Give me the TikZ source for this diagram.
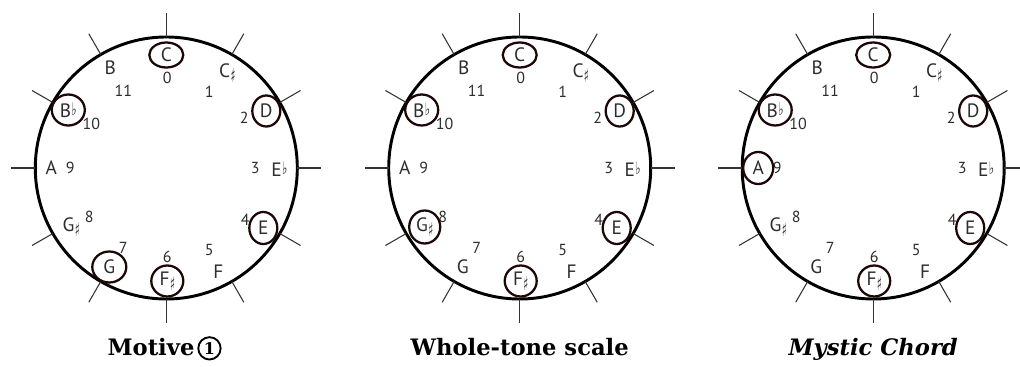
\documentclass[tikz,border=0pt]{standalone}
\usepackage{fontspec}
\setmainfont{DejaVu Serif}
\newfontfamily\notefont{PT Sans}
\newfontfamily\symfont{DejaVu Sans}
\newcommand\shp{\kern0.3pt{\symfont\fontsize{14}{14}\selectfont\raisebox{-3.4pt}{\scalebox{0.55}[1]{♯}}}}
\newcommand\flt{\kern0.3pt{\symfont\fontsize{13}{13}\selectfont\raisebox{1.8pt}{\scalebox{0.65}[1]{♭}}}}
\usetikzlibrary{shapes.geometric}
\definecolor{ringc}{RGB}{28,6,6}
\definecolor{txt}{RGB}{45,45,45}
\tikzset{
  rim/.style={line width=2.2pt, black},
  tickline/.style={line width=0.8pt, black!80},
  note/.style={inner sep=0pt, text=txt, font=\notefont\fontsize{14.5}{15}\selectfont},
  num/.style={inner sep=0pt, text=txt, font=\notefont\fontsize{12}{13}\selectfont},
  ring/.style={draw=ringc, ellipse, inner sep=0pt, line width=1.7pt},
  title/.style={inner sep=0pt, font=\bfseries\fontsize{17}{19}\selectfont},
}
\newcommand\dial[2]{%
 \begin{scope}[shift={(#2,168)}]
  \draw[rim] (0,0) circle[radius=98.25pt];
  \foreach \a in {0,30,...,330} \draw[tickline] (\a:131) -- (\a:155);
  \foreach \n/\x/\y/\t in {C/0/-113/C, Cs/61/-95/C\shp, D/100/-57/D, Eb/113/1/E\flt,
      E/97/60/E, F/52/104/F, Fs/1/113/F\shp, G/-57/99/G, Gs/-95/59/G\shp,
      A/-115/0/A, Bb/-98/-58/B\flt, B/-56/-100/B}
    \node[note] (#1\n) at (\x,\y) {\t};
  \foreach \n/\x/\y in {0/1/-90, 1/43/-76, 2/78/-50, 3/89/0, 4/79/52, 5/43/82,
      6/1/89, 7/-43/80, 8/-77/49, 9/-96/0, 10/-75/-44, 11/-43/-77}
    \node[num] (#1n\n) at (\x,\y) {\n};
 \end{scope}}
\newcommand\ring[4]{\node[ring, minimum width={#3*0.75pt}, minimum height={#4*0.75pt}] (#1ring) at (#2) {};}

\begin{document}
\begin{tikzpicture}[x=0.75pt,y=-0.75pt]
\useasboundingbox (0,0) rectangle (1020,367);
\fill[white] (0,0) rectangle (1020,367);

% dial 1
\dial{a}{166.3}
\ring{a1}{aC}{34}{25}
\ring{a2}{aD}{28}{31}
\ring{a3}{aE}{28}{32}
\ring{a4}{aFs}{32}{31}
\ring{a5}{aG}{34}{31}
\ring{a6}{aBb}{33}{31}

% dial 2
\dial{b}{519.7}
\ring{b1}{bC}{34}{25}
\ring{b2}{bD}{28}{31}
\ring{b3}{bE}{28}{32}
\ring{b4}{bFs}{32}{31}
\ring{b5}{bGs}{31}{33}
\ring{b6}{bBb}{33}{31}

% dial 3
\dial{c}{873.2}
\ring{c1}{cC}{34}{25}
\ring{c2}{cD}{28}{31}
\ring{c3}{cE}{28}{32}
\ring{c4}{cFs}{32}{31}
\ring{c5}{cA}{30}{32}
\ring{c6}{cBb}{33}{31}

% titles
\node[title, anchor=base] (t1) at (151,355) {Motive};
\node[draw, circle, line width=1.4pt, inner sep=1.6pt, font=\bfseries\fontsize{12}{12}\selectfont, anchor=west] (t1c) at ([xshift=2pt,yshift=5pt]t1.base east) {1};
\node[title, anchor=base] (t2) at (519.7,355) {Whole-tone scale};
\node[title, anchor=base] (t3) at (873.2,355) {\itshape Mystic Chord};
\end{tikzpicture}
\end{document}
